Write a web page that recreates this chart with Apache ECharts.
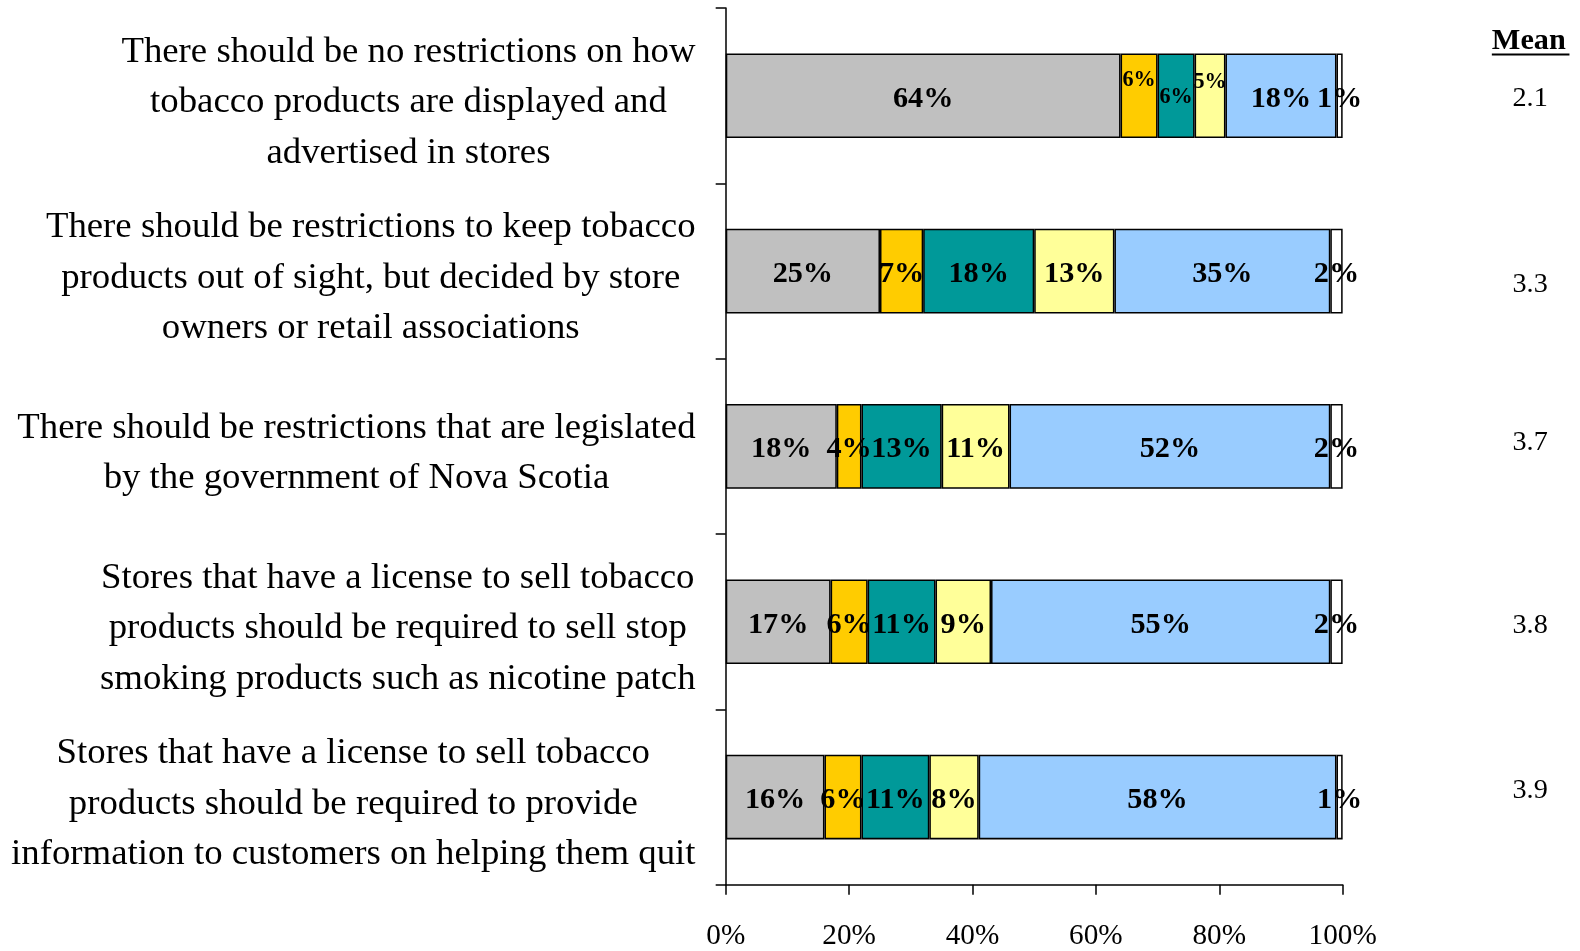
<!DOCTYPE html>
<html>
<head>
<meta charset="utf-8">
<script src="https://cdn.jsdelivr.net/npm/echarts@6/dist/echarts.min.js"></script>
<style>
html,body{margin:0;padding:0;background:#fff;overflow:hidden;width:100%;height:100%;}
#chart{width:100vw;height:100vh;}
</style>
</head>
<body>
<div id="chart"></div>
<script>
const categories = [
  "There should be no restrictions on how\ntobacco products are displayed and\nadvertised in stores",
  "There should be restrictions to keep tobacco\nproducts out of sight, but decided by store\nowners or retail associations",
  "There should be restrictions that are legislated\nby the government of Nova Scotia",
  "Stores that have a license to sell tobacco\nproducts should be required to sell stop\nsmoking products such as nicotine patch",
  "Stores that have a license to sell tobacco\nproducts should be required to provide\ninformation to customers on helping them quit"
];
const seriesNames = ["S1", "S2", "S3", "S4", "S5", "S6"];
const s1 = [64, 25, 18, 17, 16];
const s2 = [6, 7, 4, 6, 6];
const s3 = [6, 18, 13, 11, 11];
const s4 = [5, 13, 11, 9, 8];
const s5 = [18, 35, 52, 55, 58];
const s6 = [1, 2, 2, 2, 1];
const means = ["2.1", "3.3", "3.7", "3.8", "3.9"];
const xTicks = [0, 20, 40, 60, 80, 100];

const colors = ["#C0C0C0", "#FFCC00", "#009999", "#FFFF99", "#99CCFF", "#FFFFFF"];
const allValues = [s1, s2, s3, s4, s5, s6];
const serif = "'Liberation Serif', 'Times New Roman', serif";

const el = document.getElementById('chart');
const chart = echarts.init(el, null, {renderer: 'canvas'});
const k = 1.008 * Math.min(chart.getWidth() / 1580, chart.getHeight() / 951);
const px = v => v * k;

// small-label tweaks for narrow segments (series index -> row index -> label style)
const labelTweaks = {
  1: {0: {fontSize: px(22), offset: [0, px(-15)]}},
  2: {0: {fontSize: px(22), offset: [0, px(2)]}},
  3: {0: {fontSize: px(22), offset: [0, px(-13)]}}
};
// vertical nudges of the mean labels (px)
const meanNudge = [3, 13, -4, 4, -6];
const meanRich = {};
meanNudge.forEach((n, i) => {
  meanRich['m' + i] = {
    fontFamily: serif, fontSize: px(28), color: '#000', align: 'center',
    padding: n >= 0 ? [px(2 * n), 0, 0, 0] : [0, 0, px(-2 * n), 0]
  };
});

const series = allValues.map((vals, si) => ({
  name: seriesNames[si],
  type: 'bar',
  stack: 'total',
  barWidth: px(84),
  itemStyle: {color: colors[si], borderColor: '#000', borderWidth: px(1.5)},
  label: {
    show: true,
    position: 'inside',
    formatter: '{c}%',
    color: '#000',
    fontFamily: serif,
    fontWeight: 'bold',
    fontSize: px(30),
    offset: [0, px(3)]
  },
  data: vals.map((v, ri) => {
    const t = labelTweaks[si] && labelTweaks[si][ri];
    if (t) return {value: v, label: t};
    return v;
  })
}));

chart.setOption({
  animation: false,
  backgroundColor: '#fff',
  grid: {left: px(720), right: chart.getWidth() - px(1332), top: px(8), bottom: chart.getHeight() - px(879), containLabel: false},
  xAxis: {
    type: 'value',
    min: 0, max: 100, interval: 20,
    splitLine: {show: false},
    axisLine: {show: true, lineStyle: {color: '#000', width: px(1.5)}},
    axisTick: {show: true, length: px(10), lineStyle: {color: '#000', width: px(1.5)}},
    axisLabel: {
      formatter: v => xTicks.includes(v) ? v + '%' : '',
      color: '#000', fontFamily: serif, fontSize: px(29), margin: px(37)
    }
  },
  yAxis: [{
    type: 'category',
    inverse: true,
    data: categories,
    axisLine: {show: true, lineStyle: {color: '#000', width: px(1.5)}},
    axisTick: {show: true, length: px(10), lineStyle: {color: '#000', width: px(1.5)}},
    axisLabel: {
      margin: px(30),
      color: '#000',
      fontFamily: serif,
      fontSize: px(36.5),
      lineHeight: px(50),
      padding: [px(14), 0, 0, 0],
      formatter: v => '{c|' + v.split('\n').join('}\n{c|') + '}',
      rich: {c: {align: 'center', fontFamily: serif, fontSize: px(36.5), lineHeight: px(50), color: '#000'}}
    }
  }, {
    type: 'category',
    inverse: true,
    position: 'right',
    data: means,
    axisLine: {show: false},
    axisTick: {show: false},
    axisLabel: {
      margin: px(186), align: 'center', color: '#000', fontFamily: serif, fontSize: px(28),
      formatter: (v, i) => '{m' + i + '|' + v + '}',
      rich: meanRich
    }
  }],
  graphic: [
    {type: 'text', left: px(1480), top: px(26), style: {text: 'Mean', fontFamily: serif, fontWeight: 'bold', fontSize: px(30), fill: '#000'}},
    {type: 'line', shape: {x1: px(1480), y1: px(54), x2: px(1557), y2: px(54)}, style: {stroke: '#000', lineWidth: px(2)}}
  ],
  series: series
});
</script>
</body>
</html>
